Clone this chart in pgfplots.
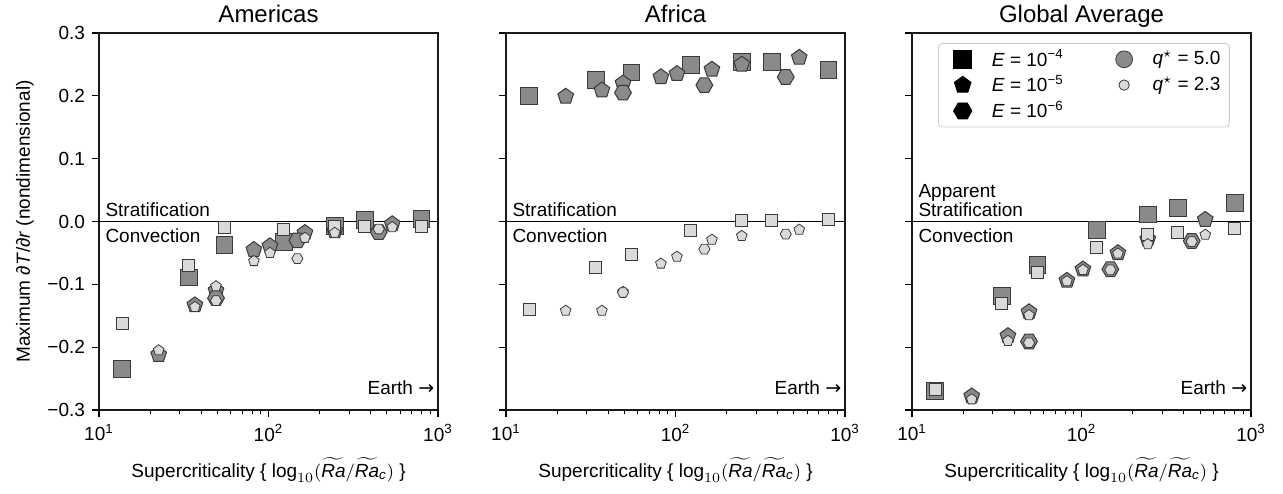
\documentclass[border=0pt]{standalone}
\usepackage{fontspec}
\setmainfont{Liberation Sans}
\newfontfamily\dejavu{DejaVu Sans}
\usepackage{pgfplots}
\usepackage{pgfplotstable}
\pgfplotsset{compat=1.18}

\definecolor{dfill}{HTML}{8A8A8A}
\definecolor{lfill}{HTML}{D8DCD8}
\definecolor{medge}{HTML}{3A3A3A}

% flat-topped hexagon (matplotlib 'H')
\pgfdeclareplotmark{hexagon*}{%
  \pgfpathmoveto{\pgfqpointpolar{0}{\pgfplotmarksize}}%
  \pgfpathlineto{\pgfqpointpolar{60}{\pgfplotmarksize}}%
  \pgfpathlineto{\pgfqpointpolar{120}{\pgfplotmarksize}}%
  \pgfpathlineto{\pgfqpointpolar{180}{\pgfplotmarksize}}%
  \pgfpathlineto{\pgfqpointpolar{240}{\pgfplotmarksize}}%
  \pgfpathlineto{\pgfqpointpolar{300}{\pgfplotmarksize}}%
  \pgfpathclose
  \pgfusepathqfillstroke}

% columns: x, d = q*=5.0 (dark), l = q*=2.3 (light)
\pgfplotstableread{
x d l
13.7 -0.235 -0.162
33.8 -0.089 -0.070
55 -0.037 -0.010
123 -0.032 -0.012
246 -0.007 -0.008
369 0.002 -0.007
800 0.004 -0.007
}\AmSq
\pgfplotstableread{
x d l
22.5 -0.212 -0.205
36.8 -0.133 -0.136
49 -0.110 -0.103
82 -0.045 -0.063
102 -0.039 -0.050
164 -0.018 -0.026
246 -0.015 -0.018
537 -0.004 -0.009
}\AmPe
\pgfplotstableread{
x d l
49 -0.122 -0.126
148 -0.030 -0.059
447 -0.017 -0.012
}\AmHe

\pgfplotstableread{
x d l
13.7 0.200 -0.140
33.8 0.225 -0.073
55 0.237 -0.053
123 0.249 -0.014
246 0.254 0.001
369 0.254 0.001
800 0.241 0.003
}\AfSq
\pgfplotstableread{
x d l
22.5 0.199 -0.142
36.8 0.209 -0.142
49 0.220 -0.112
82 0.230 -0.067
102 0.235 -0.056
164 0.242 -0.029
246 0.250 -0.023
537 0.261 -0.013
}\AfPe
\pgfplotstableread{
x d l
49 0.205 -0.113
148 0.217 -0.044
447 0.230 -0.020
}\AfHe

\pgfplotstableread{
x d l
13.7 -0.270 -0.268
33.8 -0.118 -0.131
55 -0.069 -0.081
123 -0.014 -0.041
246 0.011 -0.021
369 0.022 -0.017
800 0.030 -0.011
}\GlSq
\pgfplotstableread{
x d l
22.5 -0.278 -0.283
36.8 -0.182 -0.190
49 -0.144 -0.149
82 -0.094 -0.095
102 -0.076 -0.077
164 -0.050 -0.051
246 -0.028 -0.036
537 0.003 -0.021
}\GlPe
\pgfplotstableread{
x d l
49 -0.191 -0.193
148 -0.076 -0.077
447 -0.031 -0.032
}\GlHe

\pgfplotsset{
  every axis/.append style={
    scale only axis, width=169.5pt, height=188.5pt,
    xmin=10, xmax=1000, ymin=-0.3, ymax=0.3,
    xtick={10,100,1000},
    xticklabels={10\textsuperscript{1},10\textsuperscript{2},10\textsuperscript{3}},
    minor xtick={20,30,40,50,60,70,80,90,200,300,400,500,600,700,800,900},
    ytick={-0.3,-0.2,-0.1,0,0.1,0.2,0.3},
    tick align=outside, xtick pos=bottom, ytick pos=left,
    major tick length=3.5pt, minor tick length=2pt,
    axis line style={line width=0.9pt, black!90},
    major tick style={black, line width=0.6pt},
    minor tick style={black, line width=0.5pt},
    every axis title shift=0pt,
    title style={font=\fontsize{12}{14}\selectfont, at={(0.5,1)}, anchor=base,
      inner sep=0pt, yshift=5.5pt},
    tick label style={font=\fontsize{9.5}{11}\selectfont},
    label style={font=\fontsize{9.5}{11}\selectfont},
    xlabel style={yshift=-1.5pt},
    xlabel={Supercriticality \{ $\log_{10}(\widetilde{\mathit{Ra}}/\widetilde{\mathit{Ra}}_{\mathit{c}})$ \}},
  },
  mkdark/.style={only marks, mark options={fill=dfill, draw=medge, line width=0.5pt}},
  mklight/.style={only marks, mark options={fill=lfill, draw=medge, line width=0.4pt}},
}
\tikzset{notetext/.style={font=\fontsize{9.5}{10}\selectfont, inner sep=0pt, align=left}}

\newcommand{\drawpanel}[3]{%
  \draw[black, line width=0.5pt] (axis cs:10,0) -- (axis cs:1000,0);
  \addplot[mkdark, mark=square*, mark size=4.2pt] table[x=x,y=d] {#1};
  \addplot[mkdark, mark=pentagon*, mark size=4.1pt] table[x=x,y=d] {#2};
  \addplot[mkdark, mark=hexagon*, mark size=4.2pt] table[x=x,y=d] {#3};
  \addplot[mklight, mark=square*, mark size=3pt] table[x=x,y=l] {#1};
  \addplot[mklight, mark=pentagon*, mark size=2.8pt] table[x=x,y=l] {#2};
  \addplot[mklight, mark=hexagon*, mark size=2.8pt] table[x=x,y=l] {#3};
  \node[notetext, anchor=base east] at (rel axis cs:0.99,0.04) {Earth {\dejavu →}};
}

\begin{document}
\begin{tikzpicture}
\path (-49.5pt,-41.5pt) rectangle (592pt,205pt);

\begin{semilogxaxis}[at={(0,0)}, title={Americas},
  ylabel={Maximum \textit{∂T}/\textit{∂r} (nondimensional)},
  yticklabels={−0.3,−0.2,−0.1,0.0,0.1,0.2,0.3}]
\drawpanel{\AmSq}{\AmPe}{\AmHe}
\node[notetext, anchor=base west] at (rel axis cs:0.018,0.514) {Stratification};
\node[notetext, anchor=north west] at (rel axis cs:0.018,0.482) {Convection};
\end{semilogxaxis}

\begin{semilogxaxis}[at={(203.5pt,0)}, title={Africa}, yticklabels={}]
\drawpanel{\AfSq}{\AfPe}{\AfHe}
\node[notetext, anchor=base west] at (rel axis cs:0.018,0.514) {Stratification};
\node[notetext, anchor=north west] at (rel axis cs:0.018,0.482) {Convection};
\end{semilogxaxis}

\begin{semilogxaxis}[at={(406.5pt,0)}, title={Global Average}, yticklabels={},
  legend columns=2,
  legend cell align=left,
  legend style={at={(rel axis cs:0.077,0.9735)}, anchor=north west,
    draw=black!20, rounded corners=2pt, font=\fontsize{9.5}{11}\selectfont,
    /tikz/every odd column/.append style={column sep=8pt},
    row sep=-1pt, inner xsep=7.5pt, inner ysep=1pt}]
\addlegendimage{only marks, mark=square*, mark size=4.5pt, black}
\addlegendentry{\textit{E} = 10\textsuperscript{−4}\kern24pt}
\addlegendimage{only marks, mark=*, mark size=4.2pt, mark options={fill=dfill, draw=medge}}
\addlegendentry{\textit{q}$^{\star}$ = 5.0\kern-5pt}
\addlegendimage{only marks, mark=pentagon*, mark size=4.4pt, black}
\addlegendentry{\textit{E} = 10\textsuperscript{−5}\kern24pt}
\addlegendimage{only marks, mark=*, mark size=2.6pt, mark options={fill=lfill, draw=medge}}
\addlegendentry{\textit{q}$^{\star}$ = 2.3\kern-5pt}
\addlegendimage{only marks, mark=hexagon*, mark size=4.6pt, black}
\addlegendentry{\textit{E} = 10\textsuperscript{−6}\kern24pt}
\pgfplotsset{every axis plot/.append style={forget plot}}
\drawpanel{\GlSq}{\GlPe}{\GlHe}
\node[notetext, anchor=base west, font=\fontsize{9.5}{9.5}\selectfont] at (rel axis cs:0.018,0.514) {Apparent\\Stratification};
\node[notetext, anchor=north west] at (rel axis cs:0.018,0.482) {Convection};
\end{semilogxaxis}
\end{tikzpicture}
\end{document}
